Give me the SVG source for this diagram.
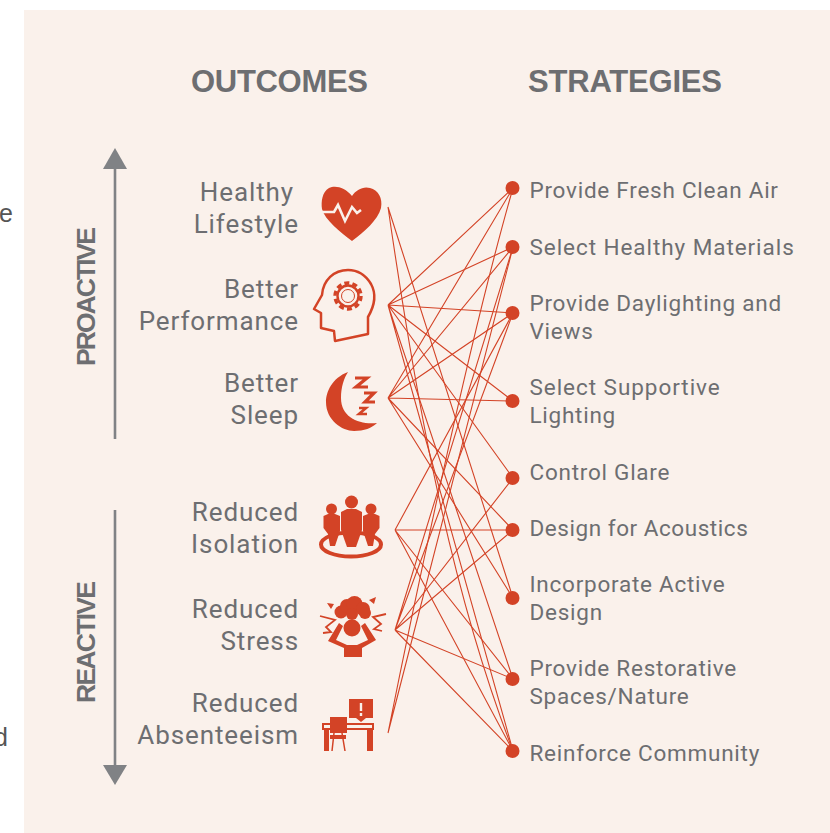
<svg xmlns="http://www.w3.org/2000/svg" width="830" height="833" viewBox="0 0 830 833">
<style>
.bg{fill:#faf1eb}
.t{font-family:"Roboto","Liberation Sans",sans-serif;font-size:26px;fill:#6d6e71;letter-spacing:.9px}
.l{text-anchor:end}
.r{font-size:22.5px;letter-spacing:.75px}
.h{font-family:"Liberation Sans",sans-serif;font-weight:700;font-size:31px;fill:#6d6e71}
.v{font-family:"Liberation Sans",sans-serif;font-weight:700;font-size:26.5px;fill:#6d6e71}
.b{font-family:"Liberation Sans",sans-serif;font-size:25px;font-weight:300;fill:#555}
.ax{stroke:#808285;stroke-width:2.6;fill:none}
.hd{fill:#808285}
.c{fill:none;stroke:#d34326;stroke-width:1.1}
.d{fill:#d34326}
.i{fill:#d34326;stroke:none}
.o{fill:none;stroke:#d34326}
.w{fill:none;stroke:#faf1eb}
</style>
<rect width="830" height="833" fill="#fff"/>
<rect class="bg" x="24" y="10" width="806" height="823"/>
<text class="b" x="-1" y="222">e</text>
<text class="b" x="-7" y="452">.</text>
<text class="b" x="-6" y="746">d</text>
<text class="h" x="191" y="92" textLength="177">OUTCOMES</text>
<text class="h" x="528" y="92" textLength="194">STRATEGIES</text>
<g id="axis-proactive">
<path class="ax" d="M115 439V165"/><path class="hd" d="M103 169L115 148L127 169Z"/>
<text class="v" transform="translate(94.500 366) rotate(-90)" textLength="139">PROACTIVE</text>
</g>
<g id="axis-reactive">
<path class="ax" d="M115 510V768"/><path class="hd" d="M103 765L115 785L127 765Z"/>
<text class="v" transform="translate(94.500 703) rotate(-90)" textLength="122">REACTIVE</text>
</g>
<g id="connectors">
<path class="c" d="M388 207C412 372 445 575 513 751M388 207L513 598"/>
<path class="c" d="M388 305L513 188M388 305L513 247M388 305L513 313M388 305L513 401M388 305L513 478M388 305L513 679M388 305L513 751"/>
<path class="c" d="M388 398L513 188M388 398L513 247M388 398L513 313M388 398L513 401M388 398L513 530M388 398L513 598"/>
<path class="c" d="M395 530L513 313M395 530L513 530M395 530L513 679M395 530L513 751"/>
<path class="c" d="M395 630L513 247M395 630L513 313M395 630L513 478M395 630L513 530M395 630L513 679M395 630L513 751"/>
<path class="c" d="M388 733C412 613 468 344 513 188M388 733L513 247"/>
</g>
<g id="outcome-lifestyle">
<text class="t l" x="294" y="201">Healthy</text><text class="t l" x="299" y="233">Lifestyle</text>
<path class="i" d="M352 196C345 187 335 185 329 188C322 192 321 202 322 209C325 220 340 232 352 241C364 232 378 220 381 208C383 198 378 190 370 188C363 186 356 190 352 196Z"/>
<path class="w" stroke-width="2.6" d="M322 212H334L338 205L345 221L352 207L357 213L361 210"/>
</g>
<g id="outcome-performance">
<text class="t l" x="299" y="298">Better</text><text class="t l" x="299" y="330">Performance</text>
<path class="o" stroke-width="2.5" stroke-linejoin="round" d="M335 341L368 334V317C375 305 376 293 371 284C365 274 356 270 348 270C334 270 323 280 322 295L314 309L321 313V328L334 331Z"/>
<circle class="o" cx="348" cy="296" r="13" stroke-width="3.4" stroke-dasharray="5 3.17"/>
<circle class="o" cx="348" cy="296" r="10.5" stroke-width="2.4"/>
<circle class="o" cx="348" cy="296" r="6.5" stroke-width="1"/>
</g>
<g id="outcome-sleep">
<text class="t l" x="299" y="392">Better</text><text class="t l" x="299" y="424">Sleep</text>
<path class="i" d="M348 372C332 378 326 392 326 402C326 420 342 431 354 431C364 431 372 428 377 423C360 425 341 418 341 398C341 387 344 378 348 372Z"/>
<path class="o" stroke-width="3.200" d="M355 378H367L356 387H368"/>
<path class="o" stroke-width="3.200" d="M364 393H374L365 402H375"/>
<path class="o" stroke-width="2.600" d="M359 408H366L359 414H367"/>
</g>
<g id="outcome-isolation">
<text class="t l" x="299" y="521">Reduced</text><text class="t l" x="299" y="553">Isolation</text>
<ellipse class="o" cx="351" cy="544.5" rx="30" ry="12" stroke-width="4"/>
<circle class="i" cx="351.5" cy="502" r="6.5"/><circle class="i" cx="331.5" cy="509" r="5.5"/><circle class="i" cx="371" cy="509" r="5.5"/>
<path class="i" d="M323.500 516L328 514H335L340 516L340 531L335 546H330L328 534L323.500 528Z"/>
<path class="i" d="M379.500 516L375 514H368L363 516L363 531L368 546H373L375 534L379.500 528Z"/>
<path class="i" d="M341 512L347 509H356L362 512V530L356 547H347L341 530Z"/>
</g>
<g id="outcome-stress">
<text class="t l" x="299" y="618">Reduced</text><text class="t l" x="299" y="650">Stress</text>
<circle class="i" cx="341" cy="612" r="6.500"/><circle class="i" cx="347" cy="606" r="7"/><circle class="i" cx="354.500" cy="604" r="8"/><circle class="i" cx="363" cy="609" r="7"/><circle class="i" cx="365" cy="613" r="6"/><circle class="i" cx="352" cy="614" r="6"/>
<circle class="i" cx="352" cy="628" r="8.500"/>
<path class="i" d="M339 623L343 626L336 640L347 645H357L368 640L361 626L365 623L376 640L362 648V657H344V648L328 641Z"/>
<path class="o" stroke-width="1.800" d="M320 616L335 620L326 627L331 632L323 633M386 614L373 617L381 624L374 629L382 631"/>
<path class="i" d="M327 603L334 604L331 609ZM376 597L369 600L374 604Z"/>
</g>
<g id="outcome-absenteeism">
<text class="t l" x="299" y="712">Reduced</text><text class="t l" x="299" y="744">Absenteeism</text>
<path class="i" d="M349 699H373V718H366L361 722L356 718H349Z"/>
<path class="w" stroke-width="2.400" d="M361 703V711M361 713V716"/>
<path class="o" stroke-width="2" d="M323 724H373V729H323Z"/>
<path class="i" d="M324 730H329V751H324ZM367 730H373V751H367ZM330 717H347V733H330ZM330 735H346V739H330Z"/>
<path class="o" stroke-width="1.500" d="M334 733L332 751M342 733L345 751"/>
</g>
<g id="strategies">
<g id="s1"><circle class="d" cx="512.500" cy="188" r="7"/><text class="t r" x="529.500" y="198">Provide Fresh Clean Air</text></g>
<g id="s2"><circle class="d" cx="512.500" cy="247" r="7"/><text class="t r" x="529.500" y="255" textLength="265">Select Healthy Materials</text></g>
<g id="s3"><circle class="d" cx="512.500" cy="313" r="7"/><text class="t r" x="529.500" y="311">Provide Daylighting and</text><text class="t r" x="529.500" y="339">Views</text></g>
<g id="s4"><circle class="d" cx="512.500" cy="401" r="7"/><text class="t r" x="529.500" y="395" textLength="191">Select Supportive</text><text class="t r" x="529.500" y="423">Lighting</text></g>
<g id="s5"><circle class="d" cx="512.500" cy="478" r="7"/><text class="t r" x="529.500" y="480">Control Glare</text></g>
<g id="s6"><circle class="d" cx="512.500" cy="530" r="7"/><text class="t r" x="529.500" y="536" textLength="219">Design for Acoustics</text></g>
<g id="s7"><circle class="d" cx="512.500" cy="598" r="7"/><text class="t r" x="529.500" y="592">Incorporate Active</text><text class="t r" x="529.500" y="620">Design</text></g>
<g id="s8"><circle class="d" cx="512.500" cy="679" r="7"/><text class="t r" x="529.500" y="676">Provide Restorative</text><text class="t r" x="529.500" y="704">Spaces/Nature</text></g>
<g id="s9"><circle class="d" cx="512.500" cy="751" r="7"/><text class="t r" x="529.500" y="761">Reinforce Community</text></g>
</g>
</svg>
